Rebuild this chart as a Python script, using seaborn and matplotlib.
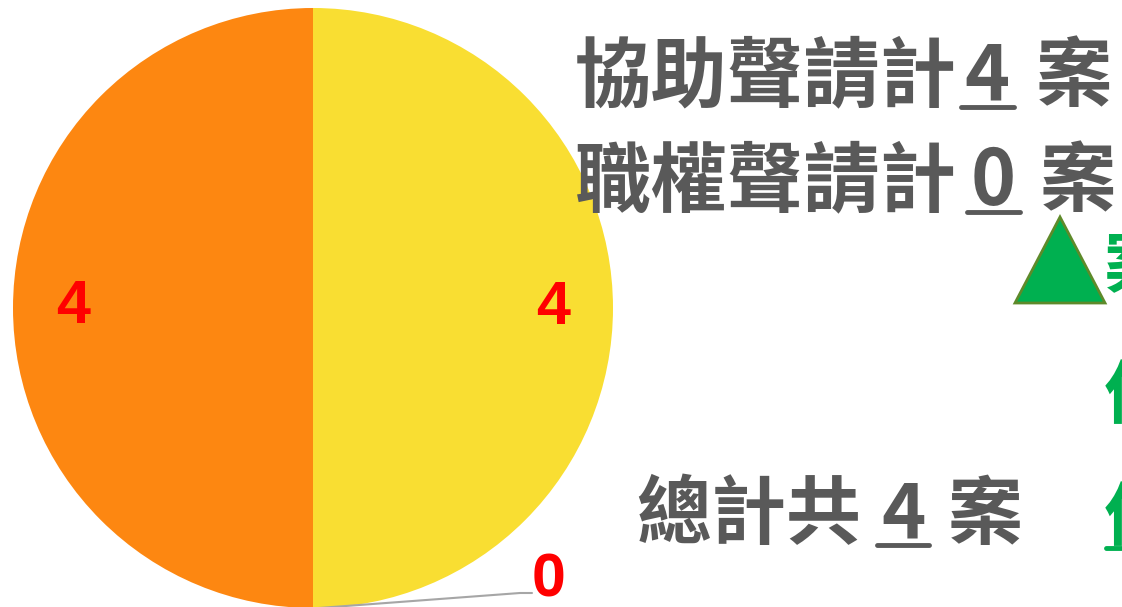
import matplotlib
matplotlib.use("Agg")
import matplotlib.pyplot as plt
import seaborn as sns
import numpy as np
from matplotlib.patches import Polygon

sns.set_theme(style="white")
plt.rcParams['font.family'] = ['Noto Sans CJK TC', 'DejaVu Sans']

# data
slice_names = ['協助聲請', '其他', '職權聲請']
slice_values = [4, 0, 4]
slice_colors = ['#F9DE32', '#A5A5A5', '#FD8711']
assist_count = 4
ex_officio_count = 0
total_count = 4

fig = plt.figure(figsize=(11.22, 6.07), dpi=100)
ax = fig.add_axes([13 / 1122, -1 / 607, 600 / 1122, 600 / 607])

wedges, texts = ax.pie(slice_values, colors=slice_colors, startangle=90,
                       counterclock=False, labels=[str(v) for v in slice_values],
                       labeldistance=0.8, wedgeprops=dict(linewidth=0),
                       textprops=dict(color='red', fontsize=44, fontweight='bold',
                                      family='Liberation Sans', ha='center', va='center'))
ax.set_xlim(-1, 1)
ax.set_ylim(-1, 1)
ax.set_aspect('equal')

# leader line for the zero slice
for w, t, v in zip(wedges, texts, slice_values):
    if v == 0:
        ang = np.deg2rad(w.theta1)
        x0, y0 = np.cos(ang), np.sin(ang)
        t.set_visible(False)
        kx, ky = x0 + 0.69, y0 + 0.05
        ax.plot([x0 + 0.02, kx, kx + 0.04], [y0, ky, ky], color='#A6A6A6', lw=1.5,
                clip_on=False)
        ax.text(x0 + 0.785, y0 + 0.09, str(v), color='red', fontsize=44,
                fontweight='bold', family='Liberation Sans', ha='center', va='center',
                clip_on=False)

fig.canvas.draw()
renderer = fig.canvas.get_renderer()
W, H = fig.get_size_inches() * fig.dpi


def line_with_number(x, y, prefix, number, suffix, size, color, gap_a, gap_b):
    """x, y in pixels from top-left (baseline)"""
    fy = 1 - y / H
    t1 = fig.text(x / W, fy, prefix, fontsize=size, fontweight='bold', color=color,
                  va='baseline')
    bb = t1.get_window_extent(renderer)
    nx = bb.x1 + gap_a
    t2 = fig.text(nx / W, fy, number, fontsize=size, fontweight='bold', color=color,
                  va='baseline')
    bb2 = t2.get_window_extent(renderer)
    uy = fy - 0.012
    fig.add_artist(plt.Line2D([(bb2.x0 - 4) / W, (bb2.x1 + 4) / W], [uy, uy],
                              color=color, lw=3.5))
    fig.text((bb2.x1 + gap_b) / W, fy, suffix, fontsize=size, fontweight='bold',
             color=color, va='baseline')


grey = '#595959'
line_with_number(575, 100, '協助聲請計', str(assist_count), '案', 55, grey, 8, 26)
line_with_number(575, 205, '職權聲請計', str(ex_officio_count), '案', 55, grey, 14, 24)
line_with_number(636, 538, '總計共', str(total_count), '案', 54, grey, 20, 22)

# green triangle and clipped green text
tri = Polygon([[1015 / W, 1 - 303 / H], [1105 / W, 1 - 303 / H], [1060 / W, 1 - 217 / H]],
              closed=True, transform=fig.transFigure, facecolor='#00B050',
              edgecolor='#5E8A2A', lw=2)
fig.add_artist(tri)
green = '#00B050'
fig.text(1104 / W, 1 - 288 / H, '案件增減', fontsize=50, fontweight='bold', color=green,
         va='baseline')
fig.text(1104 / W, 1 - 418 / H, '件數', fontsize=50, fontweight='bold', color=green,
         va='baseline')
fig.text(1104 / W, 1 - 540 / H, '件數', fontsize=50, fontweight='bold', color=green,
         va='baseline')
fig.add_artist(plt.Line2D([1106 / W, 1.0], [1 - 548 / H, 1 - 548 / H], color=green, lw=3.5))

fig.savefig('out.png', dpi=100)
